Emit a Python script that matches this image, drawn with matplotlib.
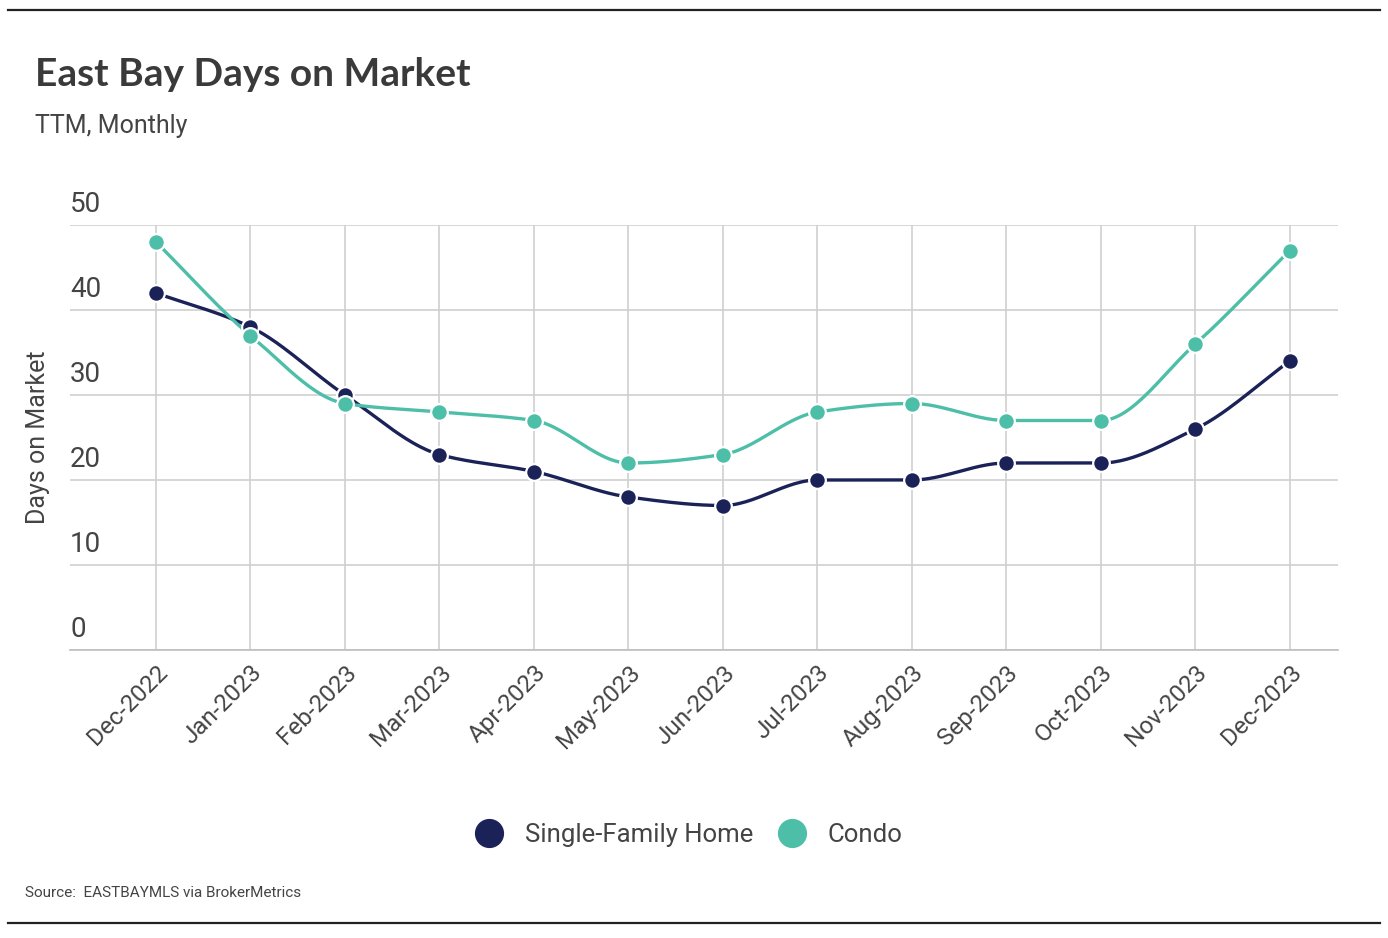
import numpy as np
import matplotlib
matplotlib.use("Agg")
import matplotlib.pyplot as plt
from matplotlib.lines import Line2D

months = ["Dec-2022", "Jan-2023", "Feb-2023", "Mar-2023", "Apr-2023", "May-2023",
          "Jun-2023", "Jul-2023", "Aug-2023", "Sep-2023", "Oct-2023", "Nov-2023", "Dec-2023"]
single_family = [42, 38, 30, 23, 21, 18, 17, 20, 20, 22, 22, 26, 34]
condo = [48, 37, 29, 28, 27, 22, 23, 28, 29, 27, 27, 36, 47]
y_ticks = [0, 10, 20, 30, 40, 50]

NAVY = "#1a2258"
TEAL = "#4dbfa8"
TEXT = "#444444"

narrow = ["Roboto", "DejaVu Sans"]


def monotone_curve(xs, ys, n=30):
    # monotone cubic (Fritsch-Carlson), only for drawing a smooth line through the points
    xs = np.asarray(xs, float)
    ys = np.asarray(ys, float)
    h = np.diff(xs)
    d = np.diff(ys) / h
    m = np.zeros_like(ys)
    m[0], m[-1] = d[0], d[-1]
    for i in range(1, len(ys) - 1):
        if d[i - 1] * d[i] <= 0:
            m[i] = 0
        else:
            m[i] = 3 * (h[i - 1] + h[i]) / ((2 * h[i] + h[i - 1]) / d[i - 1] + (h[i] + 2 * h[i - 1]) / d[i])
    out_x, out_y = [], []
    for i in range(len(h)):
        t = np.linspace(0, 1, n)
        h00 = 2 * t**3 - 3 * t**2 + 1
        h10 = t**3 - 2 * t**2 + t
        h01 = -2 * t**3 + 3 * t**2
        h11 = t**3 - t**2
        out_x.extend(xs[i] + t * h[i])
        out_y.extend(h00 * ys[i] + h10 * h[i] * m[i] + h01 * ys[i + 1] + h11 * h[i] * m[i + 1])
    return np.array(out_x), np.array(out_y)


fig = plt.figure(figsize=(13.88, 9.38), dpi=100)
ax = fig.add_axes([70 / 1388, 1 - 650 / 938, (1338 - 70) / 1388, (650 - 225) / 938])

x = np.arange(len(months))
for vals, col in [(single_family, NAVY), (condo, TEAL)]:
    cx, cy = monotone_curve(x, vals)
    ax.plot(cx, cy, color=col, lw=2.4, zorder=3, solid_capstyle="round")
    ax.plot(x, vals, "o", color=col, ms=12, mec="white", mew=1.6, zorder=4)

ax.set_xlim(-0.91, 12.51)
ax.set_ylim(0, 50)
ax.set_xticks(x)
ax.set_xticklabels(months, rotation=45, ha="right", rotation_mode="anchor",
                   family=narrow, fontsize=17.5, color=TEXT)
ax.set_yticks(y_ticks)
ax.set_yticklabels([])
ax.tick_params(axis="both", length=0)
ax.tick_params(axis="x", pad=8)
ax.grid(True, color="#cfcfcf", lw=1.2)
for s in ["top", "right", "left"]:
    ax.spines[s].set_visible(False)
ax.spines["bottom"].set_color("#bdbdbd")
ax.spines["bottom"].set_linewidth(1.2)

for v in y_ticks:
    ax.text(0, v + 0.8, str(v), transform=ax.get_yaxis_transform(), ha="left", va="bottom",
            family=narrow, fontsize=20, color=TEXT)

fig.text(38 / 1388, 1 - 437 / 938, "Days on Market", rotation=90, ha="center", va="center",
         family=narrow, fontsize=18, color=TEXT)

fig.text(35 / 1388, 1 - 74 / 938, "East Bay Days on Market", ha="left", va="center",
         family=["Lato", "DejaVu Sans"], fontweight="bold", fontsize=28, color="#3a3a3a")
fig.text(35 / 1388, 1 - 126 / 938, "TTM, Monthly", ha="left", va="center",
         family=narrow, fontsize=18, color=TEXT)
fig.text(25 / 1388, 1 - 893 / 938, "Source:  EASTBAYMLS via BrokerMetrics", ha="left", va="center",
         family=narrow, fontsize=11, color=TEXT)

handles = [Line2D([], [], ls="", marker="o", ms=20, color=NAVY),
           Line2D([], [], ls="", marker="o", ms=20, color=TEAL)]
fig.legend(handles, ["Single-Family Home", "Condo"], loc="center", bbox_to_anchor=(683 / 1388, 1 - 835 / 938),
           ncol=2, frameon=False, handletextpad=0.4, columnspacing=0.5,
           prop={"family": narrow, "size": 18.5}, labelcolor=TEXT)

for yy in [10, 923]:
    fig.add_artist(Line2D([8 / 1388, 1380 / 1388], [1 - yy / 938, 1 - yy / 938], color="#222222", lw=1.6))

fig.savefig("out.png", dpi=100, facecolor="white")
